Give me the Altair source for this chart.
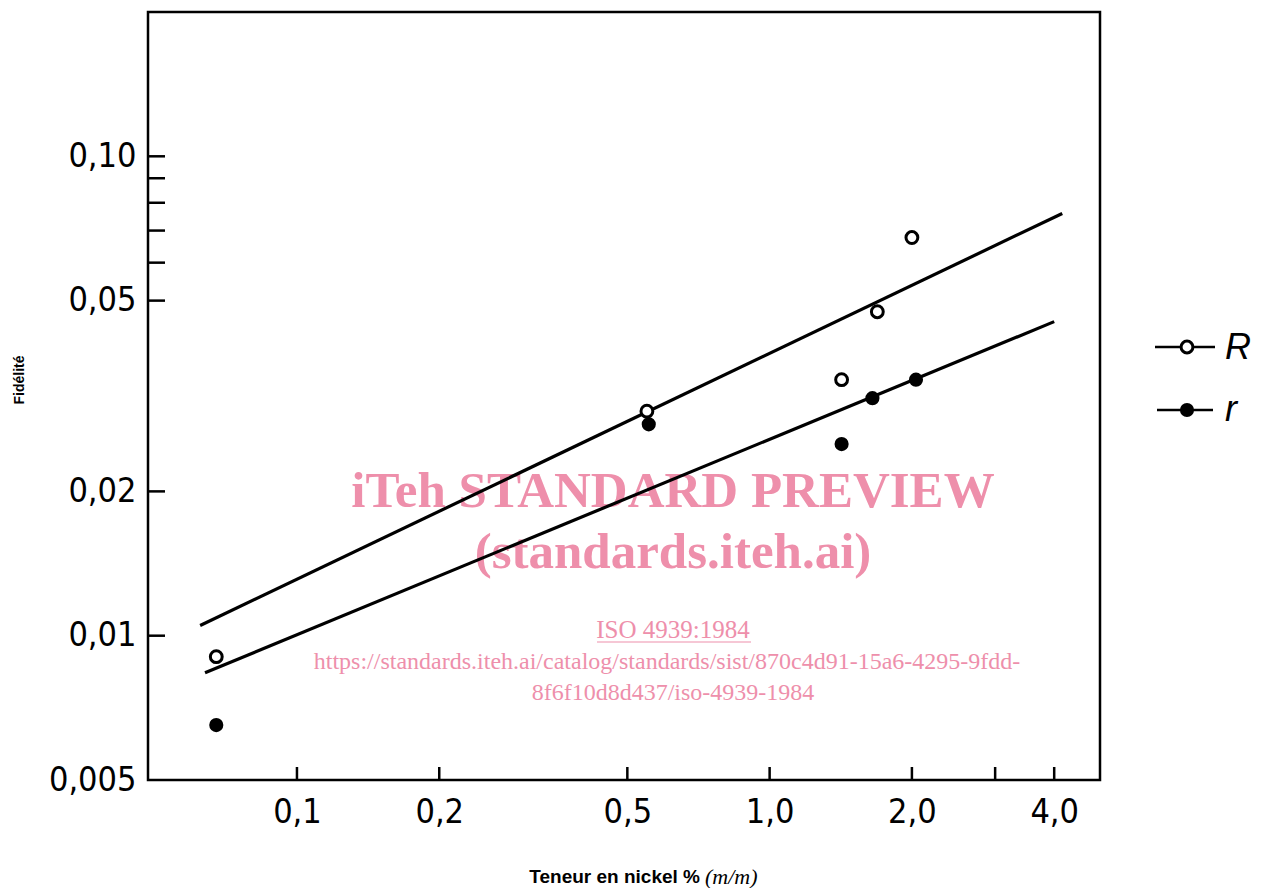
import altair as alt
import pandas as pd

# ---- data ----
R_x = [0.0675, 0.55, 1.42, 1.69, 2.0]
R_y = [0.00904, 0.0294, 0.0342, 0.0474, 0.0677]
r_x = [0.0675, 0.555, 1.42, 1.65, 2.04]
r_y = [0.00651, 0.0276, 0.0251, 0.0313, 0.0342]

fitR_x = [0.0624, 4.16]
fitR_y = [0.0105, 0.076]
fitr_x = [0.0639, 4.0]
fitr_y = [0.00837, 0.0452]

x_labels = [0.1, 0.2, 0.5, 1.0, 2.0, 4.0]
x_ticks = [0.1, 0.2, 0.5, 1.0, 2.0, 3.0, 4.0]
y_labels = [0.005, 0.01, 0.02, 0.05, 0.10]
y_ticks = [0.01, 0.02, 0.05, 0.06, 0.07, 0.08, 0.09, 0.10]

W, H = 952, 768
LBL_FONT = "Liberation Sans Narrow, DejaVu Sans Condensed, sans-serif"
PINK = "#ee8fab"

xs = alt.Scale(type="log", domain=[0.0484, 5.0], nice=False)
ys = alt.Scale(type="log", domain=[0.005, 0.2], nice=False)

ptsR = pd.DataFrame({"x": R_x, "y": R_y})
ptsr = pd.DataFrame({"x": r_x, "y": r_y})
fits = pd.DataFrame({
    "x": fitR_x + fitr_x,
    "y": fitR_y + fitr_y,
    "s": ["R"] * len(fitR_x) + ["r"] * len(fitr_x),
})
one = pd.DataFrame({"a": [0]})

xaxis = alt.Axis(values=x_labels, ticks=False, domain=False, grid=False,
                 labelExpr="replace(format(datum.value, '.1f'), '.', ',')",
                 labelFont=LBL_FONT, labelFontSize=34, labelColor="black",
                 labelPadding=15, title=None, labelFlush=False)
yaxis = alt.Axis(values=y_labels, ticks=False, domain=False, grid=False,
                 labelExpr="replace(format(datum.value, datum.value < 0.009 ? '.3f' : '.2f'), '.', ',')",
                 labelFont=LBL_FONT, labelFontSize=34, labelColor="black",
                 labelPadding=12, title=None, labelFlush=False)


def X(f="x"):
    return alt.X(f"{f}:Q", scale=xs, axis=xaxis, title=None)


def Y(f="y"):
    return alt.Y(f"{f}:Q", scale=ys, axis=yaxis, title=None)


lines = alt.Chart(fits).mark_line(color="black", strokeWidth=3.2).encode(
    x=X(), y=Y(), detail="s:N",
)

open_pts = alt.Chart(ptsR).mark_point(shape="circle", filled=True, fill="white",
                                      stroke="black", strokeWidth=3, size=140,
                                      opacity=1).encode(x=X(), y=Y())
filled_pts = alt.Chart(ptsr).mark_circle(color="black", size=200, opacity=1).encode(
    x=X(), y=Y())

xt = alt.Chart(pd.DataFrame({"x": x_ticks})).mark_rule(color="black", strokeWidth=2.5).encode(
    x=X(), y=alt.value(H), y2=alt.value(H - 13),
)
yt = alt.Chart(pd.DataFrame({"y": y_ticks})).mark_rule(color="black", strokeWidth=2.5).encode(
    y=Y(), x=alt.value(0), x2=alt.value(17),
)


def txt(text, x, y, **kw):
    return alt.Chart(one).mark_text(text=text, **kw).encode(x=alt.value(x), y=alt.value(y))


def hline(x1, x2, y, w=2.5, color="black"):
    return alt.Chart(one).mark_rule(color=color, strokeWidth=w).encode(
        x=alt.value(x1), x2=alt.value(x2), y=alt.value(y))


# legend (manual)
leg = [
    hline(1007, 1067, 335),
    alt.Chart(one).mark_point(shape="circle", filled=True, fill="white", stroke="black",
                              strokeWidth=3, size=140, opacity=1).encode(
        x=alt.value(1039), y=alt.value(335)),
    txt("R", 1077, 336, font="Liberation Sans, sans-serif", fontStyle="italic",
        fontSize=36, align="left", baseline="middle"),
    hline(1009, 1065, 398),
    alt.Chart(one).mark_circle(color="black", size=200, opacity=1).encode(
        x=alt.value(1039), y=alt.value(398)),
    txt("r", 1077, 398, font="Liberation Sans, sans-serif", fontStyle="italic",
        fontSize=36, align="left", baseline="middle"),
]

titles = [
    txt("Fidélité", -128, 368, font="Liberation Sans, Arial, sans-serif", fontWeight="bold",
        fontSize=14, angle=270, align="center", baseline="middle"),
    txt("Teneur en nickel %", 552, 865, font="Liberation Sans, Arial, sans-serif",
        fontWeight="bold", fontSize=19, align="right", baseline="middle"),
    txt("(m/m)", 557, 865, font="Liberation Serif, serif", fontStyle="italic",
        fontSize=22, align="left", baseline="middle"),
]

wm = [
    txt("iTeh STANDARD PREVIEW", 525, 480, font="Liberation Serif, serif", fontWeight="bold",
        fontSize=51, color=PINK, align="center", baseline="middle"),
    txt("(standards.iteh.ai)", 525, 541, font="Liberation Serif, serif", fontWeight="bold",
        fontSize=51, color=PINK, align="center", baseline="middle"),
    txt("ISO 4939:1984", 525, 618, font="Liberation Serif, serif",
        fontSize=25, color=PINK, align="center", baseline="middle"),
    hline(449, 603, 630, w=1.2, color=PINK),
    txt("https://standards.iteh.ai/catalog/standards/sist/870c4d91-15a6-4295-9fdd-", 519, 650,
        font="Liberation Serif, serif", fontSize=24, color=PINK, align="center", baseline="middle"),
    txt("8f6f10d8d437/iso-4939-1984", 525, 681,
        font="Liberation Serif, serif", fontSize=24, color=PINK, align="center", baseline="middle"),
]

chart = alt.layer(
    *wm, lines, xt, yt, open_pts, filled_pts, *leg, *titles
).properties(
    width=W, height=H,
    padding={"left": 140, "top": 4, "right": 160, "bottom": 112},
    autosize=alt.AutoSizeParams(type="none"),
    background="white",
).configure_view(stroke="black", strokeWidth=2.5)

chart.save("out.html", embed_options={"renderer": "svg", "actions": False})
